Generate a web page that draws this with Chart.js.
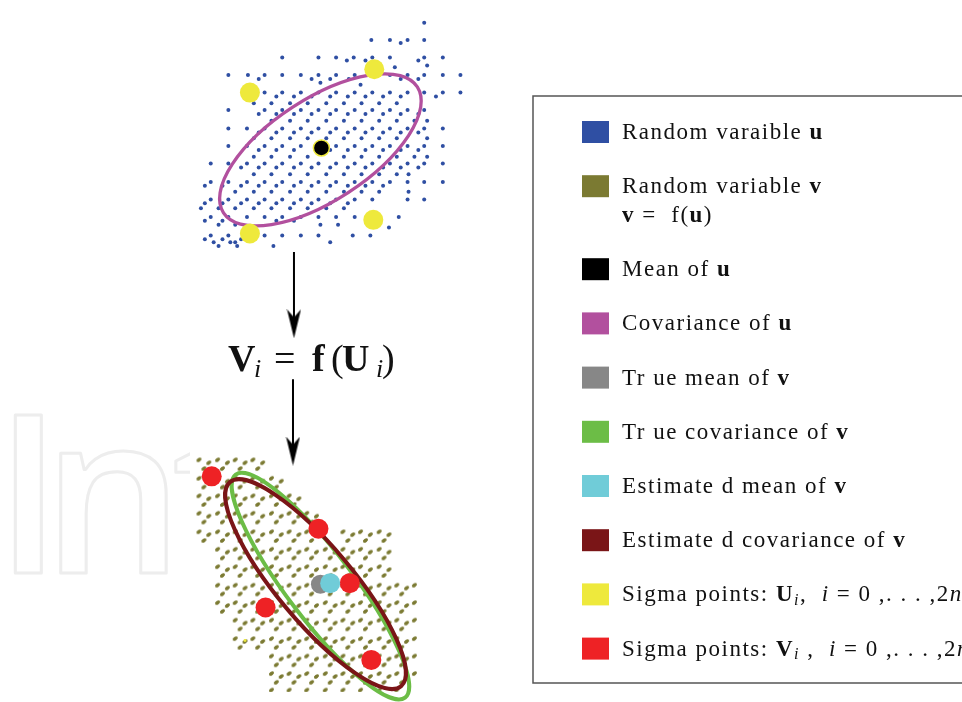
<!DOCTYPE html>
<html>
<head>
<meta charset="utf-8">
<style>
  body { margin: 0; background: #fff; }
  canvas { display: block; }
</style>
</head>
<body>
<canvas id="sigmaChart" width="962" height="702"></canvas>
<script src="https://cdn.jsdelivr.net/npm/chart.js"></script>
<script>
// samples of u (blue), one line per row: [y, [x, ...]]
const uRows = [
  [13, [423]],
  [31, [369, 388, 406, 423]],
  [34, [399]],
  [49, [278, 315, 333, 351, 370, 388, 423, 442]],
  [52, [344, 363, 417]],
  [57, [426]],
  [59, [393]],
  [67, [223, 243, 260, 278, 297, 315, 333, 352, 370, 388, 406, 423, 442, 460]],
  [71, [254, 308, 327, 346, 399, 417]],
  [75, [317]],
  [77, [358]],
  [85, [260, 278, 297, 315, 333, 352, 370, 388, 406, 423, 442, 460]],
  [89, [272, 290, 308, 327, 345, 363, 381, 399, 435]],
  [96, [249, 267, 286, 304, 323, 341, 359, 377, 395]],
  [103, [223, 260, 278, 297, 315, 333, 352, 370, 388, 406, 423]],
  [107, [254, 272, 290, 308, 327, 345, 363, 381, 399, 417]],
  [114, [267, 286, 304, 323, 341, 359, 377, 395, 413, 426]],
  [122, [223, 242, 260, 278, 297, 315, 333, 352, 370, 388, 406, 423, 442]],
  [126, [254, 272, 290, 308, 327, 345, 363, 381, 399, 417]],
  [132, [249, 267, 286, 304, 323, 341, 359, 377, 395, 426]],
  [140, [223, 242, 260, 278, 297, 333, 352, 370, 388, 406, 423, 442]],
  [144, [254, 272, 290, 327, 345, 363, 381, 399, 417]],
  [151, [249, 267, 286, 304, 341, 359, 377, 395, 413, 426]],
  [158, [205, 223, 242, 260, 278, 297, 315, 333, 352, 370, 388, 406, 423, 442]],
  [162, [236, 254, 272, 290, 308, 327, 345, 363, 381, 399, 417]],
  [169, [249, 267, 286, 304, 323, 341, 359, 377, 395, 407]],
  [177, [205, 223, 242, 260, 278, 297, 315, 333, 352, 370, 388, 406, 423, 442]],
  [181, [199, 217, 236, 254, 272, 290, 308, 327, 345, 363, 381]],
  [187, [230, 249, 267, 286, 304, 323, 341, 359, 377, 407]],
  [195, [205, 223, 242, 260, 278, 297, 315, 333, 352, 370, 406, 423]],
  [199, [199, 217, 236, 254, 272, 290, 308, 327, 345]],
  [204, [195, 213, 230, 249, 267, 286, 304, 323, 341]],
  [213, [205, 223, 242, 260, 278, 297, 315, 333, 352, 397]],
  [217, [199, 217, 272, 290]],
  [221, [213, 230, 317, 335]],
  [224, [387]],
  [232, [205, 223, 260, 278, 297, 315, 350, 368]],
  [236, [199, 217, 236]],
  [239, [208, 225, 230, 327]],
  [243, [213, 232, 269]]
];

// samples of v = f(u) (olive)
const vRows = [
  [463, [193, 212, 230, 248]],
  [466, [203, 222, 240, 258]],
  [472, [198, 217, 235, 253]],
  [482, [193, 212, 230, 248, 267]],
  [485, [203, 222, 240, 258, 277]],
  [491, [198, 217, 235, 253, 272]],
  [500, [193, 212, 230, 248, 267, 285]],
  [503, [203, 222, 240, 258, 277, 295]],
  [509, [198, 217, 235, 253, 272, 290]],
  [518, [193, 212, 230, 248, 267, 285, 303]],
  [521, [203, 222, 240, 258, 277, 295, 313]],
  [527, [198, 217, 235, 253, 272, 290, 308]],
  [537, [193, 212, 230, 248, 267, 285, 303, 340, 358, 377]],
  [540, [203, 222, 240, 258, 277, 295, 313, 350, 368, 387]],
  [546, [198, 217, 235, 253, 272, 290, 308, 345, 363, 382]],
  [555, [212, 230, 248, 267, 285, 303, 322, 340, 358, 377]],
  [558, [222, 240, 258, 277, 295, 313, 332, 350, 368, 387]],
  [564, [217, 235, 253, 272, 290, 308, 327, 345, 363, 382]],
  [573, [212, 230, 248, 267, 285, 303, 322, 340, 358, 377]],
  [576, [222, 240, 258, 277, 295, 313, 332, 350, 368, 387]],
  [582, [217, 235, 253, 272, 290, 308, 327, 345, 363, 382]],
  [592, [212, 230, 248, 267, 285, 303, 322, 340, 358, 377, 395, 413]],
  [595, [222, 240, 258, 277, 295, 313, 332, 350, 368, 387, 405]],
  [601, [217, 235, 253, 272, 290, 308, 327, 345, 363, 382, 400]],
  [610, [212, 230, 248, 267, 285, 303, 322, 340, 358, 377, 395, 413]],
  [613, [222, 240, 258, 277, 295, 313, 332, 350, 368, 387, 405]],
  [619, [217, 235, 253, 272, 290, 308, 327, 345, 363, 382, 400]],
  [628, [230, 248, 267, 285, 303, 322, 340, 358, 377, 395, 413]],
  [631, [240, 258, 277, 295, 313, 332, 350, 368, 387, 405]],
  [637, [235, 253, 272, 290, 308, 327, 345, 363, 382, 400]],
  [647, [230, 248, 267, 285, 303, 322, 340, 358, 377, 395, 413]],
  [650, [240, 258, 277, 295, 313, 332, 350, 368, 387, 405]],
  [656, [235, 253, 272, 290, 308, 327, 345, 363, 382, 400]],
  [665, [267, 285, 303, 322, 340, 358, 377, 395, 413]],
  [668, [277, 295, 313, 332, 350, 368, 387, 405]],
  [674, [272, 290, 308, 327, 345, 363, 382, 400]],
  [683, [267, 285, 303, 322, 340, 358, 377, 395, 413]],
  [686, [277, 295, 313, 332, 350, 368, 387, 405]],
  [692, [272, 290, 308, 327, 345, 363, 382, 400]],
  [700, [267, 285, 303, 322, 340, 358, 377, 395]]
];

const uMean = [{ x: 318, y: 142 }];
const uSigma = [{ x: 245, y: 85 }, { x: 372, y: 61 }, { x: 371, y: 216 }, { x: 245, y: 230 }];
const vSigma = [{ x: 206, y: 480 }, { x: 315, y: 534 }, { x: 347, y: 590 }, { x: 261, y: 615 }, { x: 369, y: 669 }];
const vTrueMean = [{ x: 317, y: 591 }];
const vEstMean = [{ x: 327, y: 590 }];
const speck = [{ x: 240, y: 649 }];

// covariance ellipses: centre, semi axes, rotation (deg)
const covU = { cx: 317, cy: 144, a: 118, b: 52, angle: -33 };
const covVTrue = { cx: 317, cy: 593, a: 143, b: 34, angle: 52.8 };
const covVEst = { cx: 312, cy: 591, a: 136, b: 38.5, angle: 50 };

// f(.) arrows
const arrowShafts = [
  [{ x: 290, y: 249 }, { x: 290, y: 318 }],
  [{ x: 289, y: 380 }, { x: 289, y: 449 }]
];
const arrowTips = [{ x: 290, y: 323 }, { x: 289, y: 454 }];

const COL = {
  blue: '#2f4fa3',
  olive: '#7b7a32',
  black: '#000000',
  magenta: '#b2509e',
  gray: '#878787',
  green: '#6cbd46',
  cyan: '#70ccd8',
  maroon: '#7a1517',
  yellow: '#eee93c',
  red: '#ee2225'
};

// legend text: [string, r=regular b=bold i=italic s=italic subscript]
const legendRows = [
  { color: COL.blue, lines: [[['Random varaible ', 'r'], ['u', 'b']]] },
  { color: COL.olive, lines: [[['Random variable ', 'r'], ['v', 'b']], [['v', 'b'], [' =  f(', 'r'], ['u', 'b'], [')', 'r']]] },
  { color: COL.black, lines: [[['Mean of ', 'r'], ['u', 'b']]] },
  { color: COL.magenta, lines: [[['Covariance of ', 'r'], ['u', 'b']]] },
  { color: COL.gray, lines: [[['Tr ue mean of ', 'r'], ['v', 'b']]] },
  { color: COL.green, lines: [[['Tr ue covariance of ', 'r'], ['v', 'b']]] },
  { color: COL.cyan, lines: [[['Estimate d mean of ', 'r'], ['v', 'b']]] },
  { color: COL.maroon, lines: [[['Estimate d covariance of ', 'r'], ['v', 'b']]] },
  { color: COL.yellow, lines: [[['Sigma points: ', 'r'], ['U', 'b'], ['i', 's'], [',  ', 'r'], ['i', 'i'], [' = 0 ,. . . ,2', 'r'], ['n', 'i']]] },
  { color: COL.red, lines: [[['Sigma points: ', 'r'], ['V', 'b'], ['i', 's'], [' ,  ', 'r'], ['i', 'i'], [' = 0 ,. . . ,2', 'r'], ['n', 'i']]] }
];

const formula = [['V', 'b', 228], ['i', 's', 254], ['=', 'r', 274], ['f', 'b', 312], ['(', 'r', 331], ['U', 'b', 342], ['i', 's', 376], [')', 'r', 382]];

function toPoints(rows) {
  return rows.flatMap(function(row) {
    return row[1].map(function(x) { return { x: x, y: row[0] }; });
  });
}

function dashMark(color) {
  const c = document.createElement('canvas');
  c.width = 9; c.height = 9;
  const g = c.getContext('2d');
  g.fillStyle = color;
  g.beginPath();
  g.ellipse(4.5, 4.5, 2.8, 1.8, -Math.PI / 5, 0, Math.PI * 2);
  g.fill();
  return c;
}

function arrowHead() {
  const c = document.createElement('canvas');
  c.width = 15; c.height = 29;
  const g = c.getContext('2d');
  g.fillStyle = '#000';
  g.beginPath();
  g.moveTo(7.5, 29);
  g.lineTo(0.5, 0);
  g.lineTo(7.5, 8);
  g.lineTo(14.5, 0);
  g.closePath();
  g.fill();
  return c;
}

const SERIF = '"Liberation Serif", "Times New Roman", serif';

function drawRich(ctx, parts, x, y, size) {
  parts.forEach(function(p) {
    let fs = size, dy = 0, style = '';
    if (p[1] === 'b') style = 'bold ';
    if (p[1] === 'i') style = 'italic ';
    if (p[1] === 's') { style = 'italic '; fs = Math.round(size * 0.68); dy = size * 0.16; }
    ctx.font = style + fs + 'px ' + SERIF;
    ctx.fillText(p[0], x, y + dy);
    x += ctx.measureText(p[0]).width;
  });
}

const ellipseLayers = [
  { after: 'u', cov: covU, color: COL.magenta, width: 3.3 },
  { after: 'v', cov: covVTrue, color: COL.green, width: 4 },
  { after: 'v', cov: covVEst, color: COL.maroon, width: 4 }
];

// faint publisher mark behind the lower cloud
function drawWatermark(ctx) {
  ctx.save();
  ctx.font = '600 223px "Open Sans", sans-serif';
  const k = 159 / ctx.measureText('I').actualBoundingBoxAscent;
  ctx.font = '600 ' + Math.round(223 * k) + 'px "Open Sans", sans-serif';
  ctx.strokeStyle = '#ededed';
  ctx.lineWidth = 3;
  ctx.lineJoin = 'round';
  [['I', 13], ['n', 59], ['t', 174]].forEach(function(g) {
    const m = ctx.measureText(g[0]);
    ctx.strokeText(g[0], g[1] + m.actualBoundingBoxLeft + 1.5, 573);
  });
  ctx.fillStyle = '#fff';
  ctx.fillRect(190, 380, 250, 322);
  ctx.restore();
}

const diagramPlugin = {
  id: 'diagram',
  beforeDatasetsDraw(chart) {
    drawWatermark(chart.ctx);
  },
  afterDatasetDraw(chart, args) {
    const label = chart.data.datasets[args.index].label;
    const ctx = chart.ctx;
    const xs = chart.scales.x, ys = chart.scales.y;
    ellipseLayers.forEach(function(e) {
      if (e.after !== label) return;
      const c = e.cov;
      const px = xs.getPixelForValue(c.cx), py = ys.getPixelForValue(c.cy);
      const rx = Math.abs(xs.getPixelForValue(c.cx + c.a) - px);
      const ry = Math.abs(xs.getPixelForValue(c.cx + c.b) - px);
      ctx.save();
      ctx.strokeStyle = e.color;
      ctx.lineWidth = e.width;
      ctx.beginPath();
      ctx.ellipse(px, py, rx, ry, c.angle * Math.PI / 180, 0, Math.PI * 2);
      ctx.stroke();
      ctx.restore();
    });
  },
  afterDraw(chart) {
    const ctx = chart.ctx;
    ctx.save();
    ctx.fillStyle = '#111';
    ctx.textBaseline = 'alphabetic';
    // mapping formula
    formula.forEach(function(p) {
      let fs = 38, dy = 0, style = '';
      if (p[1] === 'b') style = 'bold ';
      if (p[1] === 's') { style = 'italic '; fs = 26; dy = 6; }
      ctx.font = style + fs + 'px ' + SERIF;
      ctx.fillText(p[0], p[2], 371 + dy);
    });
    // legend box
    ctx.strokeStyle = '#555';
    ctx.lineWidth = 1.5;
    ctx.strokeRect(533, 96, 520, 587);
    ctx.letterSpacing = '1.5px';
    let base = 139;
    legendRows.forEach(function(row) {
      ctx.fillStyle = row.color;
      ctx.fillRect(582, base - 18, 27, 22);
      ctx.fillStyle = '#111';
      row.lines.forEach(function(line, k) {
        drawRich(ctx, line, 622, base + k * 29, 23);
      });
      base += 54.2 + (row.lines.length - 1) * 28.8;
    });
    ctx.restore();
  }
};

const ctx = document.getElementById('sigmaChart');

new Chart(ctx, {
  type: 'scatter',
  data: {
    datasets: [
      { label: 'speck', data: speck, pointRadius: 1.4, backgroundColor: COL.yellow, borderWidth: 0, order: 0 },
      { label: 'vEstMean', data: vEstMean, pointRadius: 10, backgroundColor: COL.cyan, borderWidth: 0, order: 1 },
      { label: 'vTrueMean', data: vTrueMean, pointRadius: 9.5, backgroundColor: COL.gray, borderWidth: 0, order: 2 },
      { label: 'vSigma', data: vSigma, pointRadius: 10, backgroundColor: COL.red, borderWidth: 0, order: 3 },
      { label: 'uMean', data: uMean, pointRadius: 8, backgroundColor: COL.black, borderColor: COL.yellow, borderWidth: 1.5, order: 4 },
      { label: 'uSigma', data: uSigma, pointRadius: 10, backgroundColor: COL.yellow, borderWidth: 0, order: 5 },
      { label: 'tips', data: arrowTips, pointStyle: arrowHead(), order: 6 },
      { label: 'shaft1', data: arrowShafts[0], showLine: true, borderColor: '#000', borderWidth: 2, pointRadius: 0, order: 7 },
      { label: 'shaft2', data: arrowShafts[1], showLine: true, borderColor: '#000', borderWidth: 2, pointRadius: 0, order: 7 },
      { label: 'v', data: toPoints(vRows), pointStyle: dashMark(COL.olive), order: 8 },
      { label: 'u', data: toPoints(uRows), pointRadius: 2.0, backgroundColor: COL.blue, borderWidth: 0, order: 9 }
    ]
  },
  options: {
    responsive: false,
    animation: false,
    events: [],
    layout: { padding: 0 },
    plugins: { legend: { display: false }, tooltip: { enabled: false } },
    scales: {
      x: { type: 'linear', min: 0, max: 962, display: false },
      y: { type: 'linear', min: 0, max: 702, reverse: true, display: false }
    }
  },
  plugins: [diagramPlugin]
});
</script>
</body>
</html>
